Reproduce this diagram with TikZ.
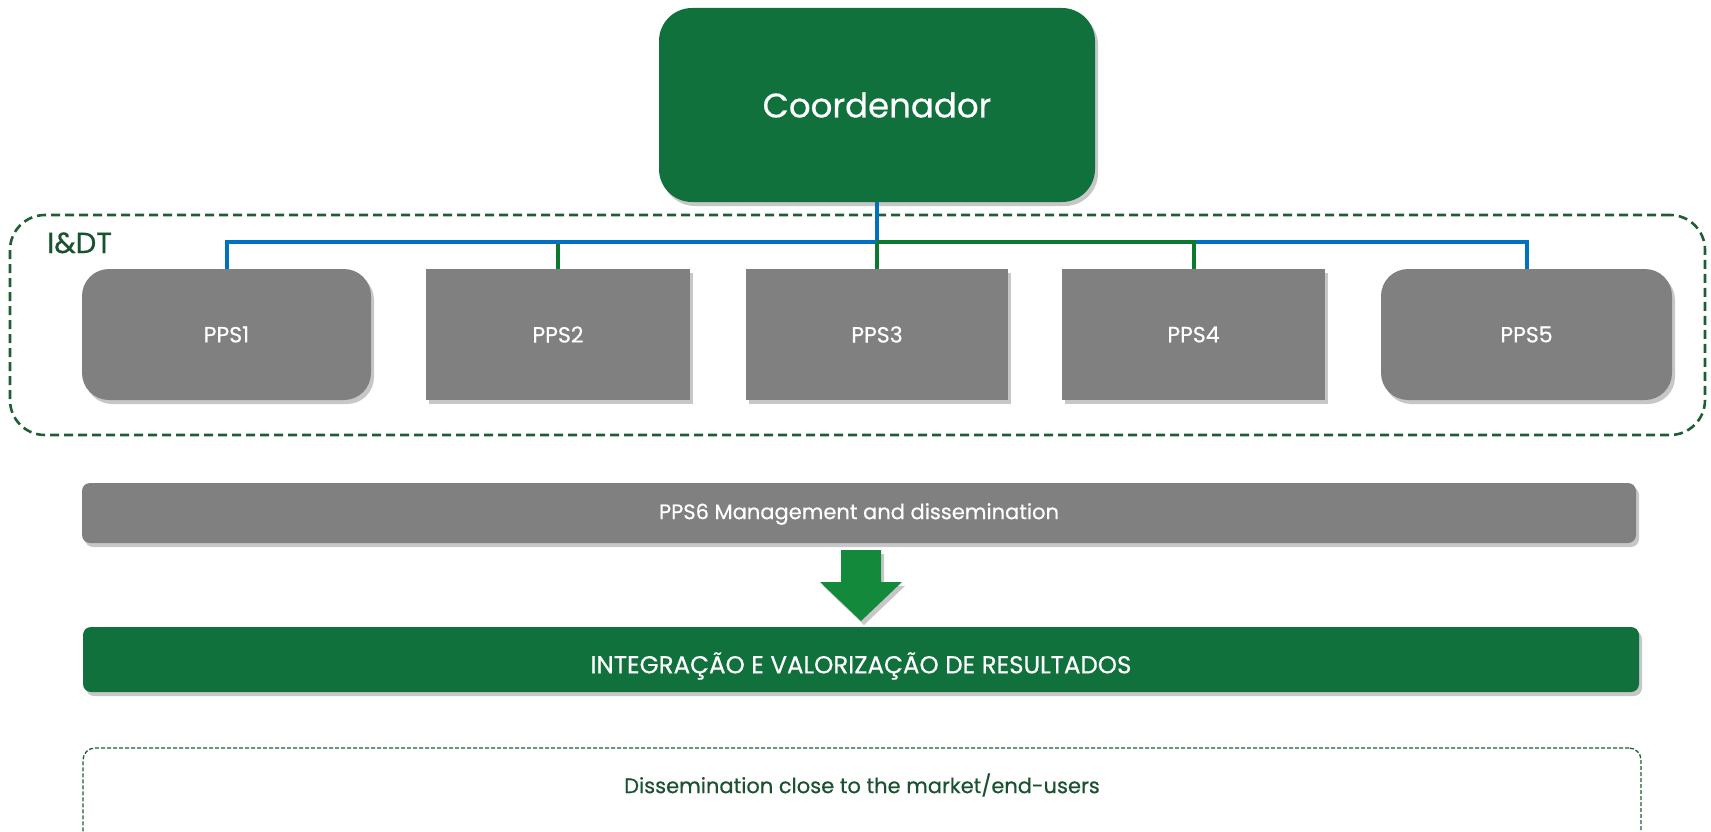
\documentclass[tikz,border=0pt]{standalone}
\usepackage{fontspec}
\setmainfont{Poppins}[FakeBold=0.5]
\usetikzlibrary{shadows}
\definecolor{dgreen}{HTML}{11713D}
\definecolor{lgreen}{HTML}{0B7A2F}
\definecolor{lblue}{HTML}{0070C0}
\definecolor{boxgray}{HTML}{808080}
\definecolor{dashgreen}{HTML}{1D5E35}
\definecolor{arrowgreen}{HTML}{138A3B}
\definecolor{txtgreen}{HTML}{1A5230}
\begin{document}
\begin{tikzpicture}[x=1pt,y=-1pt,
  shad/.style={drop shadow={shadow xshift=3pt,shadow yshift=-4pt,opacity=0.22,fill=black}},
  ppsbox/.style={fill=boxgray,text=white,minimum height=131pt,inner sep=0pt,
    font=\fontsize{22}{26}\selectfont,shad},
  barbox/.style={inner sep=0pt,rounded corners=8pt,shad},
  bartext/.style={text=white,inner sep=0pt},
  wireblue/.style={draw=lblue,line width=4pt},
  wiregreen/.style={draw=lgreen,line width=4pt}]
\useasboundingbox (0,0) rectangle (1711,832);
\clip (0,0) rectangle (1711,832);

% I&DT group
\node (idt) [draw=dashgreen,line width=2.6pt,dash pattern=on 9pt off 5pt,
  rounded corners=35pt,minimum width=1695pt,minimum height=220pt,inner sep=0pt] at (857.5,325) {};
\node (idtlabel) [anchor=base west,inner sep=0pt,text=txtgreen,font=\fontsize{29}{33}\selectfont] at (47,253) {I\&DT};

% coordinator
\node (coord) [fill=dgreen,text=white,rounded corners=33pt,minimum width=436pt,minimum height=194pt,
  inner sep=0pt,font=\fontsize{34}{40}\selectfont,shad] at (877,105) {Coordenador};

% PPS boxes
\node (pps1) [ppsbox,rounded corners=27pt,minimum width=289pt] at (226.5,334.5) {PPS1};
\node (pps2) [ppsbox,minimum width=264pt] at (558,334.5) {PPS2};
\node (pps3) [ppsbox,minimum width=262pt] at (877,334.5) {PPS3};
\node (pps4) [ppsbox,minimum width=263pt] at (1193.5,334.5) {PPS4};
\node (pps5) [ppsbox,rounded corners=27pt,minimum width=291pt] at (1526.5,334.5) {PPS5};

% connectors
\coordinate (bus) at (877,242);
\draw[wiregreen] (bus) -| (pps2.north);
\draw[wireblue] (coord.south) -- (bus) -| (pps1.north);
\draw[wireblue] (bus) -| (pps5.north);
\draw[wiregreen] (bus) -| (pps4.north);
\draw[wiregreen] (bus) -- (pps3.north);
\draw[wireblue] (coord.south) -- ([yshift=2pt]bus);

% lower bars
\node (pps6) [barbox,fill=boxgray,minimum width=1554pt,minimum height=60pt] at (859,513) {};
\node (pps6text) [bartext,font=\fontsize{21}{25}\selectfont] at (859,514) {PPS6 Management and dissemination};
\fill[arrowgreen,shad] (841,550) -- (881,550) -- (881,582) -- (902,582) -- (861,621) -- (820,582) -- (841,582) -- cycle;
\node (integ) [barbox,fill=dgreen,minimum width=1556pt,minimum height=65pt] at (861,659.5) {};
\node (integtext) [bartext,font=\fontsize{24.5}{29}\selectfont] at (861,666) {INTEGRAÇÃO E VALORIZAÇÃO DE RESULTADOS};
\node (diss) [draw=dashgreen,line width=1.3pt,dash pattern=on 4pt off 2pt,rounded corners=12pt,
  minimum width=1558pt,minimum height=96pt,inner sep=0pt] at (862,796) {};
\node (disstext) [text=txtgreen,inner sep=0pt,font=\fontsize{21}{25}\selectfont] at (862,785) {Dissemination close to the market/end-users};
\end{tikzpicture}
\end{document}
